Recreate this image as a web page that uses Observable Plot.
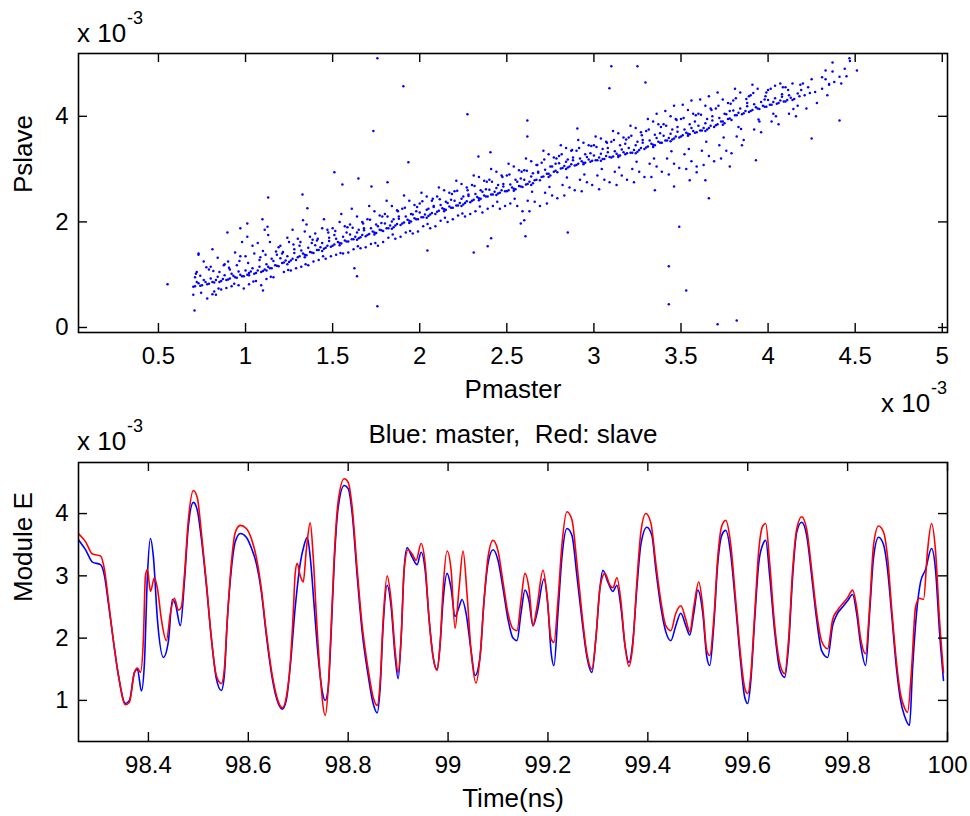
<!DOCTYPE html>
<html><head><meta charset="utf-8">
<script src="https://cdn.jsdelivr.net/npm/d3@7"></script>
<script src="https://cdn.jsdelivr.net/npm/@observablehq/plot@0.6"></script>
<style>
body{margin:0;background:#fff;}
#wrap{position:relative;width:970px;height:816px;overflow:hidden;background:#fff;}
#wrap svg{position:absolute;left:0;}
</style></head><body><div id="wrap"></div>
<script>
// ---------- DATA ----------
const pmasterTicks = [0.5,1,1.5,2,2.5,3,3.5,4,4.5,5];
const pslaveTicks = [0,2,4];
const timeTicks = [98.4,98.6,98.8,99,99.2,99.4,99.6,99.8,100];
const moduleTicks = [1,2,3,4];

// scatter (Pmaster, Pslave) in units of 1e-3
const bandPoints = [
[0.71,0.78],[0.73,0.84],[0.75,0.80],[0.77,0.86],[0.79,0.83],[0.70,0.62],[0.72,1.05],[0.74,0.98],[0.76,1.25],[0.78,0.55],[0.73,1.38],[0.71,0.95],[0.79,1.10],
[0.81,0.86],[0.83,0.90],[0.85,0.86],[0.87,0.92],[0.89,0.90],[0.80,1.15],[0.82,0.68],[0.84,1.32],[0.86,0.72],[0.88,1.20],[0.81,1.48],[0.85,1.05],[0.89,0.75],[0.83,0.62],
[0.91,0.93],[0.93,0.98],[0.95,0.94],[0.97,1.00],[0.99,0.97],[0.90,1.25],[0.92,0.78],[0.94,1.42],[0.96,0.80],[0.98,1.62],[0.91,1.10],[0.95,1.18],[0.99,0.74],[0.97,1.35],
[1.01,1.00],[1.03,1.06],[1.05,1.02],[1.07,1.08],[1.09,1.05],[1.02,1.03],[1.00,1.35],[1.02,0.82],[1.04,1.55],[1.06,0.88],[1.08,1.28],[1.01,1.72],[1.05,1.40],[1.09,0.80],[1.07,1.60],
[1.11,1.10],[1.13,1.15],[1.15,1.12],[1.17,1.18],[1.19,1.16],[1.12,1.08],[1.10,1.45],[1.12,0.92],[1.14,1.62],[1.16,0.95],[1.18,1.38],[1.11,1.85],[1.15,1.30],[1.19,1.52],[1.13,1.75],
[1.21,1.22],[1.23,1.27],[1.25,1.24],[1.27,1.30],[1.29,1.28],[1.24,1.20],[1.20,1.55],[1.22,1.05],[1.24,1.70],[1.26,1.08],[1.28,1.48],[1.21,1.40],[1.25,1.62],[1.29,1.12],[1.27,1.85],
[1.31,1.35],[1.33,1.40],[1.35,1.37],[1.37,1.43],[1.39,1.41],[1.34,1.33],[1.30,1.68],[1.32,1.15],[1.34,1.82],[1.36,1.18],[1.38,1.60],[1.31,1.55],[1.35,1.95],[1.39,1.25],[1.37,1.72],
[1.41,1.47],[1.43,1.52],[1.45,1.49],[1.47,1.55],[1.49,1.53],[1.44,1.45],[1.40,1.78],[1.42,1.28],[1.44,1.88],[1.46,1.30],[1.48,1.70],[1.41,1.65],[1.45,2.05],[1.49,1.35],[1.47,1.85],
[1.51,1.57],[1.53,1.62],[1.55,1.59],[1.57,1.65],[1.59,1.63],[1.54,1.56],[1.50,1.88],[1.52,1.38],[1.54,2.00],[1.56,1.40],[1.58,1.80],[1.51,1.75],[1.55,2.15],[1.59,1.42],[1.57,1.92],
[1.61,1.67],[1.63,1.72],[1.65,1.69],[1.67,1.75],[1.69,1.73],[1.64,1.66],[1.60,1.95],[1.62,1.48],[1.64,2.10],[1.66,1.50],[1.68,1.88],[1.61,2.25],[1.65,1.85],[1.69,1.52],[1.67,2.00],
[1.71,1.77],[1.73,1.82],[1.75,1.79],[1.77,1.85],[1.79,1.83],[1.74,1.76],[1.70,2.05],[1.72,1.58],[1.74,2.20],[1.76,1.55],[1.78,1.98],[1.71,2.30],[1.75,1.95],[1.79,1.62],[1.77,2.12],
[1.81,1.88],[1.83,1.93],[1.85,1.90],[1.87,1.96],[1.89,1.94],[1.84,1.87],[1.80,2.15],[1.82,1.70],[1.84,2.30],[1.86,1.68],[1.88,2.10],[1.81,2.40],[1.85,2.05],[1.89,1.72],[1.87,2.22],
[1.91,1.99],[1.93,2.04],[1.95,2.01],[1.97,2.07],[1.99,2.05],[1.94,1.98],[1.90,2.25],[1.92,1.80],[1.94,2.40],[1.96,1.78],[1.98,2.20],[1.91,2.50],[1.95,2.15],[1.99,1.82],[1.97,2.32],
[2.01,2.09],[2.03,2.14],[2.05,2.11],[2.07,2.17],[2.09,2.15],[2.04,2.08],[2.00,2.35],[2.02,1.92],[2.04,2.48],[2.06,1.88],[2.08,2.30],[2.01,2.55],[2.05,2.25],[2.09,1.92],[2.07,2.40],
[2.11,2.21],[2.13,2.26],[2.15,2.23],[2.17,2.29],[2.19,2.27],[2.14,2.20],[2.10,2.48],[2.12,2.02],[2.14,2.60],[2.16,2.00],[2.18,2.42],[2.11,2.65],[2.15,2.38],[2.19,2.05],[2.17,2.55],
[2.21,2.31],[2.23,2.36],[2.25,2.33],[2.27,2.39],[2.29,2.37],[2.24,2.30],[2.20,2.58],[2.22,2.12],[2.24,2.72],[2.26,2.10],[2.28,2.52],[2.21,2.78],[2.25,2.48],[2.29,2.15],[2.27,2.65],
[2.31,2.42],[2.33,2.47],[2.35,2.44],[2.37,2.50],[2.39,2.48],[2.34,2.41],[2.30,2.70],[2.32,2.20],[2.34,2.85],[2.36,2.18],[2.38,2.62],[2.31,2.88],[2.35,2.60],[2.39,2.25],[2.37,2.78],
[2.41,2.52],[2.43,2.57],[2.45,2.54],[2.47,2.60],[2.49,2.58],[2.44,2.51],[2.40,2.80],[2.42,2.30],[2.44,2.95],[2.46,2.25],[2.48,2.72],[2.41,3.00],[2.45,2.70],[2.49,2.30],[2.47,2.88],
[2.51,2.60],[2.53,2.65],[2.55,2.62],[2.57,2.68],[2.59,2.66],[2.54,2.59],[2.50,2.88],[2.52,2.35],[2.54,3.05],[2.56,2.30],[2.58,2.82],[2.51,3.10],[2.55,2.80],[2.59,2.20],[2.57,2.98],
[2.61,2.71],[2.63,2.76],[2.65,2.73],[2.67,2.80],[2.69,2.79],[2.64,2.70],[2.60,2.98],[2.62,2.40],[2.64,3.15],[2.66,2.38],[2.68,2.95],[2.61,3.20],[2.65,2.92],[2.69,2.30],[2.67,3.08],[2.63,2.20],
[2.71,2.86],[2.73,2.91],[2.75,2.88],[2.77,2.95],[2.79,2.94],[2.74,2.85],[2.70,3.12],[2.72,2.55],[2.74,3.28],[2.76,2.50],[2.78,3.10],[2.71,3.35],[2.75,3.05],[2.79,2.45],[2.77,3.22],[2.73,2.35],
[2.81,3.01],[2.83,3.06],[2.85,3.03],[2.87,3.09],[2.89,3.07],[2.84,3.00],[2.80,3.25],[2.82,2.70],[2.84,3.40],[2.86,2.65],[2.88,3.22],[2.81,3.45],[2.85,3.18],[2.89,2.60],[2.87,3.35],[2.83,2.50],
[2.91,3.10],[2.93,3.15],[2.95,3.12],[2.97,3.18],[2.99,3.16],[2.94,3.09],[2.90,3.35],[2.92,2.80],[2.94,3.50],[2.96,2.75],[2.98,3.30],[2.91,3.55],[2.95,3.28],[2.99,2.70],[2.97,3.45],[2.93,2.58],
[3.01,3.17],[3.03,3.22],[3.05,3.19],[3.07,3.25],[3.09,3.23],[3.04,3.16],[3.00,3.45],[3.02,2.88],[3.04,3.58],[3.06,2.80],[3.08,3.40],[3.01,3.62],[3.05,3.38],[3.09,2.75],[3.07,3.52],[3.03,2.62],
[3.11,3.24],[3.13,3.29],[3.15,3.26],[3.17,3.32],[3.19,3.30],[3.14,3.23],[3.10,3.52],[3.12,2.95],[3.14,3.68],[3.16,2.88],[3.18,3.48],[3.11,3.72],[3.15,3.45],[3.19,2.80],[3.17,3.60],[3.13,2.70],
[3.21,3.31],[3.23,3.36],[3.25,3.33],[3.27,3.40],[3.29,3.38],[3.24,3.30],[3.20,3.60],[3.22,3.00],[3.24,3.78],[3.26,2.95],[3.28,3.55],[3.21,3.82],[3.25,3.52],[3.29,2.85],[3.27,3.70],[3.23,2.75],
[3.31,3.43],[3.33,3.48],[3.35,3.45],[3.37,3.52],[3.39,3.50],[3.34,3.42],[3.30,3.72],[3.32,3.10],[3.34,3.90],[3.36,3.05],[3.38,3.68],[3.31,3.95],[3.35,3.65],[3.39,2.95],[3.37,3.85],[3.33,2.85],[3.36,4.05],
[3.41,3.54],[3.43,3.59],[3.45,3.56],[3.47,3.62],[3.49,3.60],[3.44,3.53],[3.40,3.85],[3.42,3.20],[3.44,4.00],[3.46,3.10],[3.48,3.80],[3.41,4.10],[3.45,3.75],[3.49,3.02],[3.47,3.95],[3.43,2.90],[3.46,4.20],
[3.51,3.64],[3.53,3.69],[3.55,3.66],[3.57,3.72],[3.59,3.70],[3.54,3.63],[3.50,3.95],[3.52,3.28],[3.54,4.12],[3.56,3.15],[3.58,3.90],[3.51,4.22],[3.55,3.85],[3.59,3.05],[3.57,4.05],[3.53,3.00],[3.56,4.30],
[3.61,3.73],[3.63,3.78],[3.65,3.75],[3.67,3.82],[3.69,3.80],[3.64,3.72],[3.60,4.05],[3.62,3.35],[3.64,4.20],[3.66,3.25],[3.68,4.00],[3.61,4.32],[3.65,3.95],[3.69,3.15],[3.67,4.15],[3.63,3.08],[3.66,4.38],
[3.71,3.85],[3.73,3.90],[3.75,3.87],[3.77,3.95],[3.79,3.93],[3.74,3.84],[3.70,4.15],[3.72,3.45],[3.74,4.32],[3.76,3.35],[3.78,4.10],[3.71,4.45],[3.75,4.05],[3.79,3.30],[3.77,4.25],[3.73,3.20],
[3.81,4.02],[3.83,4.07],[3.85,4.04],[3.87,4.10],[3.89,4.08],[3.80,4.30],[3.82,3.62],[3.84,4.45],[3.86,3.55],[3.88,4.25],[3.81,4.52],[3.85,3.45],[3.89,4.38],[3.83,3.80],
[3.91,4.12],[3.93,4.17],[3.95,4.14],[3.97,4.20],[3.99,4.18],[3.90,4.40],[3.92,3.75],[3.94,4.52],[3.96,3.70],[3.98,4.32],[3.91,4.60],[3.95,3.90],[3.99,4.45],
[4.01,4.22],[4.03,4.27],[4.05,4.24],[4.07,4.30],[4.09,4.28],[4.00,4.50],[4.02,3.90],[4.04,4.58],[4.06,3.85],[4.08,4.42],[4.03,4.05],[4.07,4.62],
[4.11,4.31],[4.13,4.35],[4.15,4.33],[4.18,4.38],[4.10,4.55],[4.12,4.05],[4.14,4.62],[4.16,4.00],[4.19,4.50],[4.17,4.20],
[4.21,4.40],[4.24,4.44],[4.27,4.46],[4.20,4.62],[4.22,4.15],[4.25,4.70],[4.28,4.25],[4.23,4.55],
[4.31,4.52],[4.33,4.70],[4.35,4.60],[4.37,4.85],[4.34,4.40],[4.38,4.65],
[4.41,4.75],[4.44,4.90],[4.47,5.05],[4.42,4.62]
];
const coreExtra = [
[0.70,0.77],[0.72,0.86],[0.74,0.79],[0.76,0.90],[0.78,0.82],[0.80,0.93],[0.82,0.85],[0.84,0.96],[0.86,0.88],[0.88,0.99],
[0.90,0.91],[0.92,1.02],[0.94,0.95],[0.96,1.06],[0.98,0.97],[1.00,1.08],[1.02,0.99],[1.04,1.12],[1.06,1.03],[1.08,1.15],
[1.10,1.07],[1.12,1.20],[1.14,1.12],[1.16,1.26],[1.18,1.17],[1.20,1.31],[1.22,1.23],[1.24,1.35],[1.26,1.27],[1.28,1.41],
[1.30,1.33],[1.32,1.46],[1.34,1.38],[1.36,1.51],[1.38,1.42],[1.40,1.56],[1.42,1.47],[1.44,1.60],[1.46,1.51],[1.48,1.64],
[1.50,1.55],[1.52,1.68],[1.54,1.60],[1.56,1.72],[1.58,1.63],[1.60,1.76],[1.62,1.67],[1.64,1.80],[1.66,1.71],[1.68,1.84],
[1.70,1.75],[1.72,1.88],[1.74,1.80],[1.76,1.92],[1.78,1.84],[1.80,1.97],[1.82,1.88],[1.84,2.01],[1.86,1.93],[1.88,2.06],
[1.90,1.97],[1.92,2.10],[1.94,2.02],[1.96,2.14],[1.98,2.05],[2.00,2.18],[2.02,2.09],[2.04,2.23],[2.06,2.14],[2.08,2.28],
[2.10,2.19],[2.12,2.32],[2.14,2.24],[2.16,2.36],[2.18,2.27],[2.20,2.40],[2.22,2.31],[2.24,2.44],[2.26,2.36],[2.28,2.49],
[2.30,2.40],[2.32,2.53],[2.34,2.45],[2.36,2.57],[2.38,2.48],[2.40,2.61],[2.42,2.52],[2.44,2.64],[2.46,2.55],[2.48,2.67],
[2.50,2.58],[2.52,2.71],[2.54,2.63],[2.56,2.76],[2.58,2.67],[2.60,2.80],[2.62,2.72],[2.64,2.86],[2.66,2.79],[2.68,2.93],
[2.70,2.85],[2.72,2.99],[2.74,2.91],[2.76,3.05],[2.78,2.97],[2.80,3.11],[2.82,3.02],[2.84,3.14],[2.86,3.05],[2.88,3.17],
[2.90,3.08],[2.92,3.20],[2.94,3.12],[2.96,3.23],[2.98,3.14],[3.00,3.26],[3.02,3.17],[3.04,3.29],[3.06,3.19],[3.08,3.32],
[3.10,3.22],[3.12,3.34],[3.14,3.26],[3.16,3.37],[3.18,3.28],[3.20,3.40],[3.22,3.31],[3.24,3.45],[3.26,3.36],[3.28,3.50],
[3.30,3.41],[3.32,3.54],[3.34,3.46],[3.36,3.59],[3.38,3.50],[3.40,3.63],[3.42,3.54],[3.44,3.67],[3.46,3.58],[3.48,3.71],
[3.50,3.62],[3.52,3.75],[3.54,3.67],[3.56,3.78],[3.58,3.69],[3.60,3.82],[3.62,3.73],[3.64,3.87],[3.66,3.78],[3.68,3.92],
[3.70,3.83],[3.72,3.97],[3.74,3.90],[3.76,4.04],[3.78,3.96],[3.80,4.11],[3.82,4.02],[3.84,4.15],[3.86,4.06],[3.88,4.19],
[3.90,4.10],[3.92,4.23],[3.94,4.15],[3.96,4.27],[3.98,4.18],[4.00,4.31],[4.02,4.22],[4.04,4.34],[4.06,4.25],[4.08,4.37],
[4.10,4.28],[4.12,4.40],[4.14,4.31],[4.17,4.43]
];
const nearBand = [
[0.715,1.02],[0.745,0.66],[0.775,1.14],[0.815,1.07],[0.845,0.74],[0.875,1.18],[0.905,1.13],[0.935,0.83],[0.965,1.26],
[1.015,1.22],[1.045,0.87],[1.085,1.33],[1.115,1.38],[1.145,0.96],[1.175,1.44],[1.215,1.43],[1.245,1.09],[1.275,1.57],
[1.315,1.62],[1.345,1.20],[1.385,1.66],[1.415,1.68],[1.445,1.35],[1.475,1.80],[1.515,1.83],[1.545,1.41],[1.585,1.90],
[1.615,1.89],[1.645,1.54],[1.675,1.97],[1.715,2.04],[1.745,1.60],[1.785,2.10],[1.815,2.10],[1.845,1.76],[1.875,2.20],
[1.915,2.27],[1.945,1.83],[1.985,2.28],[2.015,2.39],[2.045,1.96],[2.075,2.44],[2.115,2.43],[2.145,2.08],[2.185,2.53],
[2.215,2.59],[2.245,2.16],[2.275,2.60],[2.315,2.68],[2.345,2.29],[2.385,2.76],[2.415,2.76],[2.445,2.38],[2.475,2.85],
[2.515,2.90],[2.545,2.44],[2.585,2.95],[2.615,2.97],[2.645,2.57],[2.675,3.08],[2.715,3.18],[2.745,2.66],[2.785,3.20],
[2.815,3.28],[2.845,2.84],[2.875,3.36],[2.915,3.40],[2.945,2.90],[2.985,3.44],[3.015,3.42],[3.045,3.00],[3.075,3.50],
[3.115,3.55],[3.145,3.03],[3.185,3.56],[3.215,3.63],[3.245,3.14],[3.275,3.64],[3.315,3.75],[3.345,3.20],[3.385,3.80],
[3.415,3.82],[3.445,3.34],[3.475,3.93],[3.515,3.97],[3.545,3.38],[3.585,4.02],[3.615,4.03],[3.645,3.52],[3.675,4.12],
[3.715,4.20],[3.745,3.60],[3.785,4.24],[3.815,4.34],[3.845,3.76],[3.875,4.33],[3.915,4.44],[3.945,3.94],[3.985,4.38],
[4.015,4.52],[4.045,4.00],[4.085,4.55],[4.115,4.50],[4.145,4.14],[4.185,4.60]
];
const outlierPoints = [
[1.757,5.10],[1.906,4.57],[1.734,3.72],[2.274,4.04],[2.618,3.92],[2.618,3.62],[1.935,3.13],[1.51,2.94],[1.556,2.71],[1.648,2.82],[1.723,2.67],[1.815,2.75],
[3.10,4.95],[3.25,4.95],[3.089,4.53],[3.296,4.64],[2.905,3.77],[2.406,3.32],[2.337,3.24],[4.37,5.02],[4.467,5.10],[4.51,4.87],[4.45,4.76],[4.41,3.92],[4.25,3.58],
[3.93,3.17],[3.78,3.05],[3.59,2.94],[3.55,2.79],[3.64,2.79],[3.46,2.67],[3.35,2.60],[3.66,2.45],[4.33,4.87],[4.31,4.74],[4.35,4.61],
[3.49,1.91],[3.43,1.16],[3.53,0.70],[3.43,0.44],[3.71,0.06],[3.82,0.13],[1.757,0.40],[1.625,1.12],[1.64,0.97],[2.31,1.42],[2.39,1.54],[2.41,1.69],
[2.607,1.73],[2.85,1.80],[2.044,1.46],[2.60,2.03],[2.58,1.97],[0.552,0.82],[0.707,0.32],[0.81,0.63],[1.10,0.70],[1.13,2.46],[1.327,2.52],[1.355,2.26],
[1.01,1.97],[0.97,1.88],[0.896,1.80],[0.73,1.40],[1.097,2.05],[1.126,1.91],[1.33,2.03]
];

// time traces [time (ns), |E| (1e-3)]
const masterTrace = [
[98.260,3.58],[98.274,3.42],[98.288,3.22],[98.304,3.18],[98.312,3.0],[98.320,2.55],[98.330,1.95],[98.340,1.4],[98.354,0.95],[98.362,1.0],
[98.372,1.45],[98.378,1.5],[98.386,1.15],[98.392,1.6],[98.398,3.0],[98.404,3.6],[98.410,3.3],[98.418,2.3],[98.430,1.69],[98.440,1.95],
[98.448,2.62],[98.454,2.55],[98.464,2.2],[98.472,2.9],[98.480,3.8],[98.490,4.18],[98.498,4.05],[98.506,3.6],[98.516,2.85],[98.526,2.0],
[98.536,1.35],[98.546,1.16],[98.552,1.4],[98.558,2.3],[98.566,3.1],[98.574,3.55],[98.584,3.68],[98.596,3.62],[98.606,3.45],[98.616,3.2],
[98.626,2.75],[98.636,2.05],[98.648,1.35],[98.660,0.95],[98.668,0.86],[98.676,1.0],[98.684,1.55],[98.694,2.5],[98.704,3.2],[98.712,3.5],
[98.718,3.62],[98.724,3.3],[98.732,2.5],[98.740,1.7],[98.748,1.15],[98.754,1.0],[98.760,1.2],[98.766,2.1],[98.772,3.2],[98.780,4.1],
[98.792,4.45],[98.800,4.4],[98.808,4.0],[98.818,3.0],[98.828,2.1],[98.840,1.4],[98.850,0.95],[98.858,0.8],[98.864,1.2],[98.870,2.2],
[98.878,2.85],[98.886,2.5],[98.894,1.7],[98.900,1.35],[98.906,2.0],[98.912,3.1],[98.918,3.45],[98.928,3.3],[98.938,3.18],[98.946,3.38],
[98.954,3.1],[98.962,2.3],[98.970,1.7],[98.978,1.5],[98.984,1.9],[98.990,2.6],[98.998,3.04],[99.006,2.8],[99.014,2.35],[99.022,2.5],
[99.028,2.62],[99.036,2.4],[99.046,1.8],[99.054,1.4],[99.064,1.7],[99.072,2.6],[99.080,3.2],[99.090,3.42],[99.100,3.25],[99.110,2.8],
[99.120,2.3],[99.130,2.0],[99.138,1.96],[99.146,2.4],[99.154,2.77],[99.162,2.6],[99.170,2.2],[99.178,2.4],[99.192,2.95],[99.200,2.5],
[99.206,1.8],[99.212,1.56],[99.220,2.4],[99.228,3.3],[99.238,3.76],[99.248,3.65],[99.258,3.0],[99.268,2.3],[99.278,1.7],[99.288,1.45],
[99.296,2.0],[99.304,2.8],[99.310,3.09],[99.320,2.9],[99.330,2.75],[99.338,2.85],[99.346,2.5],[99.354,1.9],[99.362,1.61],[99.370,1.95],
[99.378,2.8],[99.386,3.5],[99.398,3.78],[99.408,3.65],[99.416,3.1],[99.426,2.5],[99.436,2.1],[99.446,1.96],[99.456,2.2],[99.466,2.4],
[99.476,2.2],[99.484,2.05],[99.492,2.4],[99.500,2.77],[99.510,2.4],[99.518,1.7],[99.524,1.56],[99.532,2.2],[99.540,3.2],[99.548,3.65],
[99.556,3.73],[99.566,3.35],[99.576,2.5],[99.586,1.6],[99.594,1.05],[99.600,0.95],[99.606,1.3],[99.614,2.3],[99.622,3.2],[99.630,3.5],
[99.636,3.57],[99.644,3.0],[99.654,2.1],[99.664,1.5],[99.674,1.37],[99.682,1.9],[99.690,3.0],[99.698,3.7],[99.708,3.86],[99.718,3.65],
[99.728,3.0],[99.738,2.3],[99.748,1.8],[99.760,1.69],[99.770,2.2],[99.780,2.4],[99.790,2.5],[99.800,2.6],[99.810,2.7],[99.818,2.4],
[99.826,1.9],[99.836,1.56],[99.844,2.4],[99.852,3.3],[99.862,3.62],[99.872,3.5],[99.880,3.1],[99.888,2.4],[99.898,1.5],[99.906,1.0],
[99.914,0.75],[99.924,0.6],[99.930,1.5],[99.938,2.4],[99.946,2.9],[99.956,3.1],[99.968,3.44],[99.976,3.1],[99.984,2.1],[99.992,1.32]
];
const slaveTrace = [
[98.260,3.68],[98.274,3.55],[98.288,3.35],[98.304,3.32],[98.312,3.1],[98.320,2.6],[98.330,1.95],[98.340,1.4],[98.354,0.93],[98.362,0.97],
[98.372,1.45],[98.378,1.52],[98.384,1.45],[98.390,2.0],[98.394,3.0],[98.398,3.1],[98.404,2.75],[98.412,2.97],[98.418,2.8],[98.426,2.3],
[98.436,1.96],[98.444,2.4],[98.452,2.64],[98.460,2.45],[98.466,2.5],[98.472,3.0],[98.480,3.9],[98.490,4.37],[98.498,4.25],[98.506,3.7],
[98.516,2.9],[98.526,2.0],[98.536,1.4],[98.546,1.27],[98.552,1.5],[98.558,2.3],[98.566,3.2],[98.574,3.7],[98.584,3.81],[98.596,3.76],
[98.606,3.6],[98.616,3.3],[98.626,2.8],[98.636,2.1],[98.648,1.4],[98.660,0.98],[98.668,0.88],[98.676,1.05],[98.684,1.6],[98.690,2.4],
[98.694,3.05],[98.698,3.2],[98.704,3.0],[98.710,2.9],[98.716,3.4],[98.724,3.85],[98.730,3.3],[98.736,2.4],[98.744,1.4],[98.754,0.76],
[98.760,1.2],[98.766,2.2],[98.772,3.3],[98.780,4.2],[98.792,4.56],[98.800,4.5],[98.808,4.1],[98.818,3.1],[98.828,2.2],[98.840,1.5],
[98.850,1.05],[98.858,0.92],[98.864,1.3],[98.870,2.3],[98.878,3.0],[98.886,2.6],[98.894,1.8],[98.900,1.45],[98.906,2.0],[98.912,3.1],
[98.920,3.42],[98.928,3.35],[98.936,3.25],[98.946,3.52],[98.954,3.2],[98.962,2.3],[98.970,1.7],[98.978,1.48],[98.984,1.9],[98.990,2.8],
[98.998,3.4],[99.006,3.1],[99.014,2.16],[99.022,2.8],[99.030,3.4],[99.038,2.7],[99.046,1.8],[99.056,1.28],[99.064,1.7],[99.072,2.6],
[99.080,3.3],[99.090,3.57],[99.100,3.4],[99.110,2.9],[99.120,2.4],[99.130,2.15],[99.138,2.12],[99.146,2.6],[99.154,3.04],[99.162,2.8],
[99.170,2.2],[99.178,2.5],[99.190,3.09],[99.198,2.7],[99.206,2.0],[99.212,1.93],[99.220,2.6],[99.228,3.5],[99.238,4.03],[99.248,3.9],
[99.258,3.2],[99.268,2.4],[99.278,1.75],[99.288,1.5],[99.296,2.0],[99.304,2.8],[99.314,3.04],[99.324,2.85],[99.330,2.81],[99.338,2.97],
[99.346,2.6],[99.354,1.9],[99.362,1.55],[99.370,1.9],[99.378,2.9],[99.386,3.7],[99.396,4.0],[99.406,3.85],[99.416,3.2],[99.426,2.6],
[99.436,2.2],[99.446,2.12],[99.456,2.4],[99.466,2.52],[99.476,2.3],[99.484,2.1],[99.492,2.5],[99.502,2.9],[99.510,2.5],[99.518,1.8],
[99.524,1.72],[99.532,2.3],[99.540,3.3],[99.548,3.8],[99.556,3.89],[99.566,3.5],[99.576,2.6],[99.586,1.7],[99.594,1.2],[99.600,1.11],
[99.606,1.4],[99.614,2.4],[99.622,3.4],[99.630,3.8],[99.636,3.84],[99.644,3.2],[99.654,2.2],[99.664,1.6],[99.674,1.43],[99.682,2.0],
[99.690,3.1],[99.698,3.75],[99.708,3.95],[99.718,3.75],[99.728,3.1],[99.738,2.4],[99.748,1.95],[99.760,1.83],[99.770,2.3],[99.780,2.45],
[99.790,2.55],[99.800,2.65],[99.810,2.77],[99.818,2.5],[99.826,2.0],[99.836,1.75],[99.844,2.5],[99.852,3.5],[99.862,3.8],[99.872,3.7],
[99.880,3.3],[99.888,2.5],[99.898,1.6],[99.906,1.1],[99.914,0.88],[99.920,0.81],[99.928,1.5],[99.936,2.5],[99.944,2.64],[99.952,2.62],
[99.960,3.4],[99.968,3.84],[99.976,3.4],[99.984,2.3],[99.992,1.45]
];

// ---------- RENDER ----------
const FONT = '"Liberation Sans", Arial, Helvetica, sans-serif';
const fmt = d => String(Math.round(d * 10) / 10);
const FW = 869, FH = 279, TL = 9;
const ink = "#000";
const wrap = document.getElementById("wrap");

function tickMarks(xt, yt) {
  return [
    Plot.tickX(xt, {x: d => d, insetTop: FH - TL, stroke: ink, strokeWidth: 1.4}),
    Plot.tickX(xt, {x: d => d, insetBottom: FH - TL, stroke: ink, strokeWidth: 1.4}),
    Plot.tickY(yt, {y: d => d, insetRight: FW - TL, stroke: ink, strokeWidth: 1.4}),
    Plot.tickY(yt, {y: d => d, insetLeft: FW - TL, stroke: ink, strokeWidth: 1.4})
  ];
}

const allPoints = bandPoints.concat(coreExtra, nearBand, outlierPoints);

const topPlot = Plot.plot({
  width: 970, height: 410,
  marginLeft: 78, marginRight: 23, marginTop: 53, marginBottom: 78,
  style: {fontFamily: FONT, fontSize: "24px", color: ink, background: "#fff", overflow: "visible"},
  x: {domain: [0.041, 5.03]},
  y: {domain: [-0.095, 5.19]},
  marks: [
    Plot.dot(allPoints, {x: d => d[0], y: d => d[1], r: 1.25, fill: "#0000ff", stroke: null}),
    ...tickMarks(pmasterTicks, pslaveTicks),
    Plot.axisX(pmasterTicks, {tickSize: 0, tickPadding: 14, tickFormat: fmt, label: null}),
    Plot.axisY(pslaveTicks, {tickSize: 0, tickPadding: 10, tickFormat: fmt, label: null}),
    Plot.frame({stroke: ink, strokeWidth: 1.6}),
    Plot.text(["Pmaster"], {text: d => d, frameAnchor: "bottom", dy: 57, fontSize: 26, lineAnchor: "middle", fill: ink}),
    Plot.text(["Pslave"], {text: d => d, frameAnchor: "left", dx: -55, rotate: -90, fontSize: 26, fill: ink})
  ]
});
topPlot.style.top = "0px";
wrap.appendChild(topPlot);

const bottomPlot = Plot.plot({
  width: 970, height: 406,
  marginLeft: 78, marginRight: 23, marginTop: 52, marginBottom: 75,
  style: {fontFamily: FONT, fontSize: "24px", color: ink, background: "#fff", overflow: "visible"},
  x: {domain: [98.26, 100]},
  y: {domain: [0.34, 4.82]},
  marks: [
    Plot.line(masterTrace, {x: d => d[0], y: d => d[1], stroke: "#0000ff", strokeWidth: 1.6, curve: "monotone-x", clip: true}),
    Plot.line(slaveTrace, {x: d => d[0], y: d => d[1], stroke: "#ff0000", strokeWidth: 1.6, curve: "monotone-x", clip: true}),
    ...tickMarks(timeTicks, moduleTicks),
    Plot.axisX(timeTicks, {tickSize: 0, tickPadding: 14, tickFormat: fmt, label: null}),
    Plot.axisY(moduleTicks, {tickSize: 0, tickPadding: 10, tickFormat: fmt, label: null}),
    Plot.frame({stroke: ink, strokeWidth: 1.6}),
    Plot.text(["Time(ns)"], {text: d => d, frameAnchor: "bottom", dy: 57, fontSize: 26, lineAnchor: "middle", fill: ink}),
    Plot.text(["Module E"], {text: d => d, frameAnchor: "left", dx: -55, rotate: -90, fontSize: 26, fill: ink}),
    Plot.text(["Blue: master,  Red: slave"], {text: d => d, frameAnchor: "top", dy: -28, fontSize: 26, lineAnchor: "middle", fill: ink})
  ]
});
bottomPlot.style.top = "410px";
wrap.appendChild(bottomPlot);

// exponent annotations (x 10^-3)
const ov = d3.select(wrap).append("svg")
  .attr("width", 970).attr("height", 816)
  .style("top", "0px").style("pointer-events", "none")
  .style("font-family", FONT).attr("fill", ink);
function expLabel(x, y) {
  ov.append("text").attr("x", x).attr("y", y).attr("font-size", 26).text("x 10");
  ov.append("text").attr("x", x + 50).attr("y", y - 18).attr("font-size", 18).text("-3");
}
expLabel(77, 42);
expLabel(77, 450);
expLabel(881, 412);
</script></body></html>
